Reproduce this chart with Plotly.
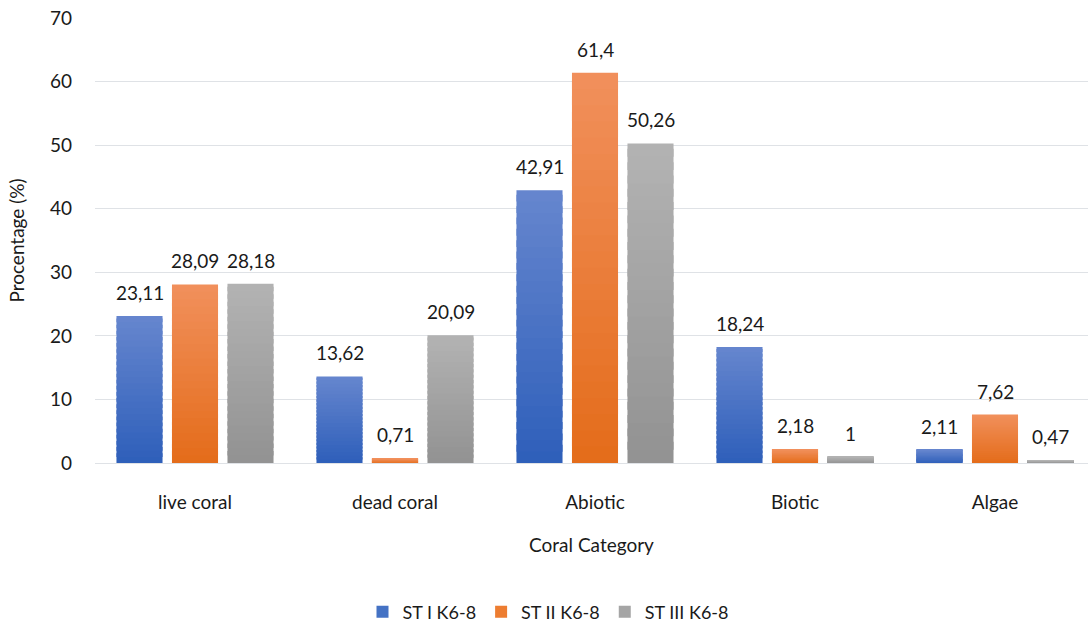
import plotly.graph_objects as go

# Coral cover by category for the three stations
categories = ["live coral", "dead coral", "Abiotic", "Biotic", "Algae"]
series_names = ["ST I K6-8", "ST II K6-8", "ST III K6-8"]
st1_values = [23.11, 13.62, 42.91, 18.24, 2.11]
st2_values = [28.09, 0.71, 61.4, 2.18, 7.62]
st3_values = [28.18, 20.09, 50.26, 1.0, 0.47]
y_ticks = [0, 10, 20, 30, 40, 50, 60, 70]

series_values = [st1_values, st2_values, st3_values]
# bottom / top colours of each series' vertical gradient, plus legend swatch
grad_bottom = ["#2E5FBA", "#E46C1A", "#929292"]
grad_top = ["#6686CE", "#F1905C", "#B3B3B3"]
swatch = ["#4472C4", "#ED7D31", "#A5A5A5"]

FONT = "Lato"
FS = 19
TEXT = "#1A1A1A"
W, H = 1088, 623
M_L, M_R, M_T, M_B = 95, 0, 18, 160
X_RANGE = [-0.5, 4.465]
BARGAP = 0.1675
N_STEPS = 24


def fmt(v):
    # decimal comma, trailing zeros dropped
    s = f"{v:g}"
    return s.replace(".", ",")


def hex_rgb(h):
    h = h.lstrip("#")
    return [int(h[i:i + 2], 16) for i in (0, 2, 4)]


def lerp_color(c0, c1, t):
    a, b = hex_rgb(c0), hex_rgb(c1)
    r = [round(a[j] + (b[j] - a[j]) * t) for j in range(3)]
    return f"rgb({r[0]},{r[1]},{r[2]})"


fig = go.Figure()
for s, (name, vals) in enumerate(zip(series_names, series_values)):
    # each bar is drawn as stacked bands so its fill fades from the darker
    # bottom colour to the lighter top colour; every band but the last
    # reaches a little into the next one so no seams show between them
    for k in range(N_STEPS):
        c = lerp_color(grad_bottom[s], grad_top[s], (k + 0.5) / N_STEPS)
        reach = 1.0 if k == N_STEPS - 1 else 1.6
        fig.add_trace(go.Bar(
            x=categories,
            y=[v / N_STEPS * reach for v in vals],
            base=[v * k / N_STEPS for v in vals],
            offsetgroup=str(s),
            marker=dict(color=c, line=dict(width=0)),
            showlegend=False, hoverinfo="skip",
        ))
    # legend entry for the series
    fig.add_trace(go.Bar(
        name=name, x=[None], y=[None], offsetgroup=str(s),
        marker=dict(color=swatch[s], line=dict(width=0)),
        showlegend=True,
    ))

# value labels above each bar, shifted to the bar's slot in the group
plot_w = W - M_L - M_R
plot_h = H - M_T - M_B
cat_px = plot_w / (X_RANGE[1] - X_RANGE[0])
slot_px = cat_px * (1 - BARGAP) / len(series_names)
for i, vals in enumerate(series_values):
    for cat, v in zip(categories, vals):
        fig.add_annotation(
            x=cat, y=v, text=fmt(v), showarrow=False,
            xref="x", yref="y", yanchor="bottom",
            xshift=(i - 1) * slot_px, yshift=10,
            font=dict(family=FONT, size=FS, color=TEXT),
        )

fig.update_layout(
    width=W, height=H,
    margin=dict(l=M_L, r=M_R, t=M_T, b=M_B, autoexpand=False),
    paper_bgcolor="white", plot_bgcolor="white",
    barmode="group", bargap=BARGAP, bargroupgap=0.17,
    font=dict(family=FONT, size=FS, color=TEXT),
    showlegend=True,
    legend=dict(
        orientation="h", x=(548 - M_L) / plot_w, xanchor="center",
        y=(463 - 612) / plot_h, yanchor="middle",
        font=dict(family=FONT, size=18, color=TEXT),
        itemwidth=30, traceorder="normal",
    ),
    xaxis=dict(
        type="category", range=X_RANGE,
        showgrid=False, showline=False, zeroline=False,
        ticks="", ticklabelstandoff=26,
        tickfont=dict(family=FONT, size=FS, color=TEXT),
        title=dict(text="Coral Category", standoff=26,
                   font=dict(family=FONT, size=FS, color=TEXT)),
    ),
    yaxis=dict(
        range=[0, 70], tickvals=y_ticks,
        showgrid=True, gridcolor="#DFE2E6", gridwidth=1,
        zeroline=True, zerolinecolor="#DFE2E6", zerolinewidth=1,
        showline=False, ticks="", ticklabelstandoff=22,
        tickfont=dict(family=FONT, size=FS, color=TEXT),
        title=dict(text="Procentage (%)", standoff=20,
                   font=dict(family=FONT, size=FS, color=TEXT)),
    ),
)

fig.write_html("out.html")
